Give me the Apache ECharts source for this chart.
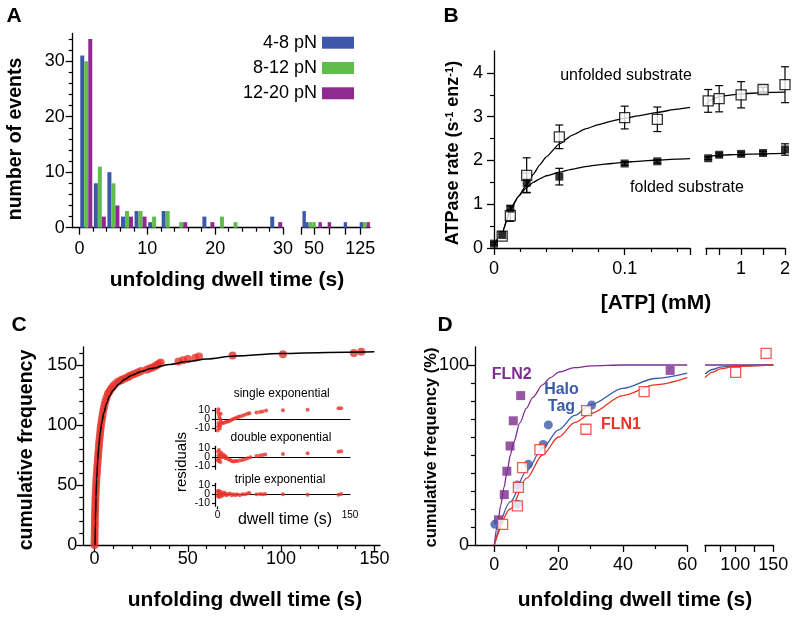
<!DOCTYPE html>
<html>
<head>
<meta charset="utf-8">
<script src="https://cdn.jsdelivr.net/npm/echarts@6.0.0/dist/echarts.min.js"></script>
<style>
  html, body { margin: 0; padding: 0; background: #fff; }
  #main { width: 795px; height: 617px; }
</style>
</head>
<body>
<div id="main"></div>
<script>
var FONT = '"Liberation Sans", Arial, Helvetica, sans-serif';

// ---- A: histogram of unfolding dwell times (2 s bins up to 30 s, then tail) ----
var binCenters = [1, 3, 5, 7, 9, 11, 13, 15, 17, 19, 21, 23, 25, 27, 29];
var countsLow = [31, 8, 10, 2, 3, 1, 3, 0, 0, 2, 0, 0, 0, 0, 2];    // 4-8 pN
var countsMid = [30, 11, 8, 3, 3, 2, 3, 1, 0, 0, 2, 1, 0, 0, 0];    // 8-12 pN
var countsHigh = [34, 2, 4, 2, 2, 0, 0, 1, 0, 1, 0, 0, 0, 0, 1];    // 12-20 pN
var tailLow = [[34, 3], [38.5, 1], [101, 1], [127, 1]];
var tailMid = [[44.5, 1], [50, 1], [132, 1]];
var tailHigh = [[60, 1], [75, 1], [138, 1]];

// ---- B: ATPase rate vs [ATP] ----
var atpLow = [0.00625, 0.0125, 0.025, 0.05, 0.1, 0.125];
var atpHigh = [0.25, 0.5, 1, 1.5, 2];
var unfoldedLow = [0.27, 0.74, 1.66, 2.54, 2.98, 2.94];
var unfoldedLowErr = [0.05, 0.13, 0.4, 0.27, 0.26, 0.28];
var unfoldedHigh = [3.36, 3.41, 3.5, 3.62, 3.73];
var unfoldedHighErr = [0.26, 0.3, 0.3, 0.05, 0.41];
var foldedAtpLow = [0, 0.00625, 0.0125, 0.025, 0.05, 0.1, 0.125];
var foldedLow = [0.1, 0.3, 0.9, 1.49, 1.63, 1.93, 1.98];
var foldedLowErr = [0.03, 0.05, 0.06, 0.22, 0.19, 0.04, 0.04];
var foldedHigh = [2.05, 2.13, 2.15, 2.17, 2.25];
var foldedHighErr = [0.03, 0.04, 0.04, 0.04, 0.13];
var fitAtpLow = [0, 0.00625, 0.0125, 0.01875, 0.025, 0.03, 0.035, 0.04, 0.05, 0.06, 0.07, 0.08, 0.09, 0.1, 0.11, 0.125, 0.14, 0.15];
var unfoldedFitLow = [0.05, 0.35, 0.88, 1.18, 1.45, 1.68, 1.9, 2.08, 2.38, 2.58, 2.72, 2.82, 2.9, 2.96, 3.02, 3.1, 3.17, 3.21];
var foldedFitLow = [0.05, 0.35, 0.88, 1.18, 1.38, 1.5, 1.58, 1.65, 1.73, 1.8, 1.86, 1.9, 1.93, 1.96, 1.98, 2.01, 2.03, 2.04];
var fitAtpHigh = [0.2, 0.3, 0.5, 1, 1.5, 2];
var unfoldedFitHigh = [3.28, 3.38, 3.46, 3.52, 3.55, 3.56];
var foldedFitHigh = [2.07, 2.1, 2.12, 2.14, 2.15, 2.16];

// ---- C: cumulative frequency + residual insets ----
var cumPts = [[0, 0], [0, 3], [0.05, 6], [0.1, 9], [0.1, 12], [0.15, 15], [0.2, 18], [0.2, 21], [0.25, 24],
  [0.3, 27], [0.35, 30], [0.4, 33], [0.45, 36], [0.5, 39], [0.6, 42], [0.7, 45], [0.8, 48], [0.9, 51],
  [1.0, 54], [1.1, 57], [1.3, 60], [1.4, 63], [1.5, 66], [1.7, 69], [1.8, 72], [2.0, 75], [2.1, 78],
  [2.3, 81], [2.4, 84], [2.6, 87], [2.8, 90], [3.0, 93], [3.2, 96], [3.4, 99], [3.7, 102], [4.0, 105],
  [4.3, 108], [4.6, 111], [5.0, 114], [5.4, 117], [5.9, 120], [6.5, 123], [7.2, 126], [8.0, 128],
  [8.8, 130], [9.8, 132], [11, 134], [12.5, 136], [14, 137], [15, 138], [16.5, 139], [18, 140],
  [19, 141], [20.5, 142], [22, 143], [23.5, 144], [25, 145], [28, 146], [29.5, 147], [31, 148],
  [32.5, 149], [33.5, 150], [34.5, 151], [35.5, 152], [45, 153], [47.5, 154], [50, 155], [54, 156],
  [56, 157], [74, 158], [101, 159], [139, 160], [143, 161]];
var cumFit = [[0.3, 0], [0.5, 20], [0.8, 40], [1.2, 55], [1.7, 70], [2.3, 82], [3, 93], [4, 103], [5, 110],
  [6.5, 118], [8, 124], [10, 129], [13, 134], [16, 138], [20, 141.5], [25, 144.5], [30, 147], [40, 150.5],
  [50, 153], [60, 155], [75, 157.5], [100, 159.5], [125, 160.5], [150, 161]];
var resSingle = [[0, -12], [0.5, -8], [0.5, 8], [1, 11], [1, -4], [1.5, 5], [2, -6], [2, 2], [2.5, -10],
  [3, 0], [3, -7], [3.5, 6], [4, -3], [5, -4], [7, -4], [9, -3], [11, -2.5], [13, -2], [15, -1], [17, 0],
  [19, 1], [21, 1.5], [23, 2.5], [25, 3], [28, 4], [31, 5], [34, 6], [36, 6.5], [44, 7.5], [48, 8],
  [51, 8.5], [55, 9.5], [74, 10], [102, 10.5], [137, 12], [140, 12]];
var resDouble = [[0, -3], [0.5, 6], [1, 2], [1, -4], [1.5, 8], [2, -2], [2.5, 3], [3, -5], [3.5, 1], [4, 5],
  [5, 0], [6, 3], [7, 1], [8, 2], [9, -1], [10, 0], [12, -2], [14, -3], [16, -4], [18, -4.5], [20, -4],
  [22, -4], [25, -3.5], [28, -3], [31, -2], [34, -1], [37, 0], [44, 1.5], [48, 2], [51, 2.5], [54, 3],
  [74, 3.5], [102, 4.5], [137, 6], [140, 6.5]];
var resTriple = [[0, 3], [0.5, -2], [1, 4], [1, 0], [1.5, -3], [2, 2], [2.5, -1], [3, 3], [3.5, 0], [4, -2],
  [5, 1], [6, -1], [7, 2], [8, 0], [9, 1], [10, -1], [12, 0], [14, 1], [16, -1], [18, 0], [20, -1],
  [22, 0], [25, -1], [28, 0], [31, 0], [34, 1], [36, 1.5], [44, 0], [48, 0.5], [51, 0], [54, 0.5],
  [74, 0], [102, -0.5], [137, -0.5], [140, 0.5]];

// ---- D: cumulative frequency (%) for FLN2, HaloTag, FLN1 ----
var fln2Pts = [[1.3, 14], [3.1, 28], [3.9, 41], [4.9, 55], [5.9, 69], [8.2, 83], [54.7, 97]];
var haloPts = [[0.2, 11.5], [7.2, 22.6], [7.2, 33.3], [10.6, 44.8], [15.2, 55.9], [16.8, 66.7], [30.3, 77.8]];
var fln1Pts = [[2.6, 11.5], [7.2, 21.7], [7.5, 32], [8.8, 43], [14.2, 53], [28.5, 64.3], [28.7, 74.6], [46.6, 85.2]];
var fln1TailPts = [[100.4, 95.9], [140.5, 106.5]];
var fln2Fit = [[0, 0], [1, 11], [2, 22], [3, 32], [4, 41], [5, 50], [6, 57], [8, 68], [10, 76], [12, 82],
  [15, 89], [17.5, 93], [20, 96], [25, 98.5], [30, 99.5], [40, 100], [60, 100]];
var fln2FitTail = [[60, 100], [150, 100]];
var haloFit = [[0, 0], [5, 24], [10, 41], [15, 54], [20, 64], [25, 72], [30, 78], [40, 87], [50, 92.5], [60, 95.5]];
var haloFitTail = [[60, 95], [70, 97.5], [80, 98.8], [100, 99.6], [150, 100]];
var fln1Fit = [[0, 0], [5, 20], [10, 37], [15, 50], [20, 60], [25, 68], [30, 73], [40, 83], [50, 89], [60, 93]];
var fln1FitTail = [[60, 93], [70, 96], [80, 97.8], [100, 99.3], [150, 100]];

var BLUE = '#3d58a8', GREEN = '#5fbd4a', PURPLE = '#8f2a91';
var RED = '#e8352b', DPURPLE = '#7d2d8f', DBLUE = '#3a5aa8', DRED = '#ec3326';

var grids = [
  { left: 72.7, top: 33.4, width: 210.3, height: 194.3 },  // 0 A
  { left: 301.7, top: 33.4, width: 68.3, height: 194.3 },  // 1 A tail
  { left: 494, top: 51, width: 196, height: 197 },         // 2 B
  { left: 706, top: 51, width: 79, height: 197 },          // 3 B high
  { left: 83.3, top: 347, width: 296.7, height: 198 },     // 4 C
  { left: 215, top: 408.3, width: 135, height: 23 },       // 5 C inset 1
  { left: 215, top: 446.3, width: 135, height: 23 },       // 6 C inset 2
  { left: 215, top: 483.3, width: 135, height: 23 },       // 7 C inset 3
  { left: 475, top: 347, width: 212.2, height: 198 },      // 8 D
  { left: 705, top: 347, width: 68.3, height: 198 }        // 9 D tail
];
grids.forEach(function (g) { g.outerBoundsMode = 'none'; g.containLabel = false; });

var xAxes = [], yAxes = [];

function addAxis(list, dim, grid, min, max, majors, minors, labels, labelOpt) {
  var base = {
    gridIndex: grid, type: 'value', min: min, max: max,
    position: dim === 'x' ? 'bottom' : 'left',
    splitLine: { show: false }
  };
  list.push(Object.assign({}, base, {
    axisLine: { show: true, onZero: false, lineStyle: { color: '#000', width: 1.3 } },
    axisTick: { show: majors.length > 0, customValues: majors, length: 7, lineStyle: { color: '#000', width: 1.3 } },
    axisLabel: Object.assign({
      show: labels.length > 0, customValues: labels, color: '#000',
      fontSize: 18, fontFamily: FONT, margin: 10, hideOverlap: false
    }, labelOpt || {})
  }));
  var idx = list.length - 1;
  // a second, line-less axis only for the short minor ticks
  if (minors && minors.length) {
    list.push(Object.assign({}, base, {
      axisLine: { show: false, onZero: false },
      axisTick: { customValues: minors, length: 4, lineStyle: { color: '#000', width: 1.2 } },
      axisLabel: { show: false }
    }));
  }
  return idx;
}

function hiddenAxis(list, grid, min, max) {
  list.push({ gridIndex: grid, type: 'value', min: min, max: max, show: false });
  return list.length - 1;
}

var ax = {};
ax.a1x = addAxis(xAxes, 'x', 0, -1, 30, [0, 10, 20, 30], [2, 4, 6, 8, 12, 14, 16, 18, 22, 24, 26, 28], [0, 10, 20, 30], { margin: 12 });
ax.a1y = addAxis(yAxes, 'y', 0, 0, 35, [0, 10, 20, 30], [2, 4, 6, 8, 12, 14, 16, 18, 22, 24, 26, 28, 32, 34], [0, 10, 20, 30], { margin: 8 });
ax.a2x = addAxis(xAxes, 'x', 1, 30, 141, [30, 50, 75, 100, 125], null, [50, 125], { margin: 12 });
ax.a2y = hiddenAxis(yAxes, 1, 0, 35);

ax.b1x = addAxis(xAxes, 'x', 2, 0, 0.15, [0, 0.1, 0.15], [0.02, 0.04, 0.06, 0.08, 0.12, 0.14], [0, 0.1], { margin: 12 });
ax.b1y = addAxis(yAxes, 'y', 2, 0, 4.5, [0, 1, 2, 3, 4], [0.5, 1.5, 2.5, 3.5], [0, 1, 2, 3, 4], { margin: 11 });
ax.b2x = addAxis(xAxes, 'x', 3, 0.2, 2, [0.2, 0.5, 1, 1.5, 2], null, [1, 2], { margin: 12 });
ax.b2y = hiddenAxis(yAxes, 3, 0, 4.5);

ax.cx = addAxis(xAxes, 'x', 4, -6, 153, [0, 50, 100, 150], [10, 20, 30, 40, 60, 70, 80, 90, 110, 120, 130, 140], [0, 50, 100, 150], { margin: 5 });
ax.cy = addAxis(yAxes, 'y', 4, 0, 165, [0, 50, 100, 150], [10, 20, 30, 40, 60, 70, 80, 90, 110, 120, 130, 140, 160], [0, 50, 100, 150], { margin: 6 });

var insetX = [], insetY = [];
var insetLabel = { fontSize: 10.5, color: '#000', fontFamily: FONT, margin: 5, hideOverlap: false };
[5, 6, 7].forEach(function (g) {
  xAxes.push({
    gridIndex: g, type: 'value', min: -3, max: 150, position: 'bottom',
    axisLine: { onZero: true, lineStyle: { color: '#000', width: 1.2 } },
    axisTick: { show: false }, axisLabel: { show: false }, splitLine: { show: false }
  });
  insetX.push(xAxes.length - 1);
  yAxes.push({
    gridIndex: g, type: 'value', min: -13, max: 12, position: 'left',
    axisLine: { show: true, onZero: false, lineStyle: { color: '#000', width: 1.2 } },
    axisTick: { customValues: [-10, 0, 10], length: 3, lineStyle: { color: '#000', width: 1.2 } },
    axisLabel: Object.assign({ customValues: [0] }, insetLabel),
    splitLine: { show: false }
  });
  insetY.push(yAxes.length - 1);
  // the +10 / -10 labels sit on their own axis so they are not dropped as overlapping
  yAxes.push({
    gridIndex: g, type: 'value', min: -13, max: 12, position: 'left',
    axisLine: { show: false, onZero: false }, axisTick: { show: false },
    axisLabel: Object.assign({ customValues: [-10, 10] }, insetLabel),
    splitLine: { show: false }
  });
});
xAxes.push({
  gridIndex: 7, type: 'value', min: -3, max: 150, position: 'bottom',
  axisLine: { show: false, onZero: false },
  axisTick: { customValues: [0], length: 3, lineStyle: { color: '#000', width: 1.2 } },
  axisLabel: { customValues: [0, 150], fontSize: 10, color: '#000', fontFamily: FONT, margin: 4 },
  splitLine: { show: false }
});

ax.dx = addAxis(xAxes, 'x', 8, -6, 60, [0, 20, 40, 60], [10, 30, 50], [0, 20, 40, 60], { margin: 11 });
ax.dy = addAxis(yAxes, 'y', 8, 0, 110, [0, 100], [10, 20, 30, 40, 50, 60, 70, 80, 90], [0, 100], { margin: 6 });
ax.d2x = addAxis(xAxes, 'x', 9, 60, 150, [60, 80, 100, 125, 150], null, [100, 150], { margin: 11 });
ax.d2y = hiddenAxis(yAxes, 9, 0, 110);

function pairs(xs, ys) {
  return xs.map(function (x, i) { return [x, ys[i]]; });
}
function errRows(xs, ys, es) {
  return xs.map(function (x, i) { return [x, ys[i] - es[i], ys[i] + es[i]]; });
}
function fitLine(data, xi, yi, color, width, smooth) {
  return {
    type: 'line', xAxisIndex: xi, yAxisIndex: yi, data: data, symbol: 'none',
    smooth: smooth === undefined ? 0.3 : smooth, smoothMonotone: 'x', clip: false, z: 4,
    lineStyle: { color: color, width: width || 1.3 }
  };
}
function errorBars(data, xi, yi) {
  return {
    type: 'custom', xAxisIndex: xi, yAxisIndex: yi, data: data, z: 2, clip: false,
    encode: { x: 0, y: [1, 2] },
    renderItem: function (params, api) {
      var top = api.coord([api.value(0), api.value(2)]);
      var bot = api.coord([api.value(0), api.value(1)]);
      var w = 4, st = { stroke: '#000', lineWidth: 1.2 };
      return {
        type: 'group', children: [
          { type: 'line', shape: { x1: top[0], y1: top[1], x2: bot[0], y2: bot[1] }, style: st },
          { type: 'line', shape: { x1: top[0] - w, y1: top[1], x2: top[0] + w, y2: top[1] }, style: st },
          { type: 'line', shape: { x1: bot[0] - w, y1: bot[1], x2: bot[0] + w, y2: bot[1] }, style: st }
        ]
      };
    }
  };
}
function dots(data, xi, yi, symbol, size, style, z) {
  return {
    type: 'scatter', xAxisIndex: xi, yAxisIndex: yi, data: data, symbol: symbol,
    symbolSize: size, itemStyle: style, clip: false, z: z || 5
  };
}

var series = [];

// A
[['4-8 pN', countsLow, tailLow, BLUE], ['8-12 pN', countsMid, tailMid, GREEN], ['12-20 pN', countsHigh, tailHigh, PURPLE]]
  .forEach(function (s) {
    series.push({
      name: s[0], type: 'bar', xAxisIndex: ax.a1x, yAxisIndex: ax.a1y, barWidth: 4, barGap: '0%',
      itemStyle: { color: s[3] },
      data: pairs(binCenters, s[1]).filter(function (d) { return d[1] > 0; })
    });
    series.push({
      name: s[0], type: 'bar', xAxisIndex: ax.a2x, yAxisIndex: ax.a2y, barWidth: 3.4, barGap: '-100%',
      itemStyle: { color: s[3] }, data: s[2]
    });
  });

// B
series.push(errorBars(errRows(atpLow, unfoldedLow, unfoldedLowErr), ax.b1x, ax.b1y));
series.push(errorBars(errRows(foldedAtpLow, foldedLow, foldedLowErr), ax.b1x, ax.b1y));
series.push(errorBars(errRows(atpHigh, unfoldedHigh, unfoldedHighErr), ax.b2x, ax.b2y));
series.push(errorBars(errRows(atpHigh, foldedHigh, foldedHighErr), ax.b2x, ax.b2y));
series.push(fitLine(pairs(fitAtpLow, unfoldedFitLow), ax.b1x, ax.b1y, '#000', 1.3, 0.15));
series.push(fitLine(pairs(fitAtpLow, foldedFitLow), ax.b1x, ax.b1y, '#000', 1.3, 0.15));
series.push(fitLine(pairs(fitAtpHigh, unfoldedFitHigh), ax.b2x, ax.b2y, '#000', 1.3, 0.15));
series.push(fitLine(pairs(fitAtpHigh, foldedFitHigh), ax.b2x, ax.b2y, '#000', 1.3, 0.15));
var openSq = { color: '#fff', borderColor: '#000', borderWidth: 1.3 };
series.push(dots(pairs(atpLow, unfoldedLow), ax.b1x, ax.b1y, 'rect', 10, openSq, 6));
series.push(dots(pairs(atpHigh, unfoldedHigh), ax.b2x, ax.b2y, 'rect', 10, openSq, 6));
series.push(dots(pairs(foldedAtpLow, foldedLow), ax.b1x, ax.b1y, 'rect', 8, { color: '#000' }, 6));
series.push(dots(pairs(atpHigh, foldedHigh), ax.b2x, ax.b2y, 'rect', 8, { color: '#000' }, 6));

// C
series.push(dots(cumPts, ax.cx, ax.cy, 'circle', 8, { color: RED }, 3));
series.push(fitLine(cumFit, ax.cx, ax.cy, '#000', 1.5));
[resSingle, resDouble, resTriple].forEach(function (d, i) {
  series.push(dots(d, insetX[i], insetY[i], 'circle', 4, { color: RED }, 5));
});

// D
series.push(fitLine(fln2Fit, ax.dx, ax.dy, DPURPLE, 1.3));
series.push(fitLine(fln2FitTail, ax.d2x, ax.d2y, DPURPLE, 1.3));
series.push(fitLine(haloFit, ax.dx, ax.dy, DBLUE, 1.3));
series.push(fitLine(haloFitTail, ax.d2x, ax.d2y, DBLUE, 1.3));
series.push(fitLine(fln1Fit, ax.dx, ax.dy, DRED, 1.3));
series.push(fitLine(fln1FitTail, ax.d2x, ax.d2y, DRED, 1.3));
series.push(dots(fln2Pts, ax.dx, ax.dy, 'rect', 9, { color: DPURPLE }, 6));
series.push(dots(haloPts, ax.dx, ax.dy, 'circle', 9, { color: DBLUE }, 6));
var redSq = { color: '#fff', borderColor: DRED, borderWidth: 1.3 };
series.push(dots(fln1Pts, ax.dx, ax.dy, 'rect', 10, redSq, 7));
series.push(dots(fln1TailPts, ax.d2x, ax.d2y, 'rect', 10, redSq, 7));

function txt(text, x, y, size, opt) {
  opt = opt || {};
  return {
    type: 'text', x: x, y: y, rotation: opt.rot ? Math.PI / 2 : 0, silent: true, z: 10,
    style: {
      text: text, fontSize: size, fontWeight: opt.bold ? 'bold' : 'normal', fontFamily: FONT,
      fill: opt.color || '#000', align: 'center', verticalAlign: 'middle', rich: opt.rich
    }
  };
}

var supRich = { sup: { fontSize: 11, fontWeight: 'bold', fontFamily: FONT, fill: '#000', verticalAlign: 'top' } };

var texts = [
  txt('A', 14, 16.5, 21, { bold: true }),
  txt('B', 451, 16, 21, { bold: true }),
  txt('C', 19, 325, 21, { bold: true }),
  txt('D', 445, 325, 21, { bold: true }),
  txt('number of events', 15.5, 139, 19.5, { bold: true, rot: true }),
  txt('unfolding dwell time (s)', 227, 280, 21, { bold: true }),
  txt('ATPase rate (s{sup|-1} enz{sup|-1})', 453.5, 153, 18, { bold: true, rot: true, rich: supRich }),
  txt('[ATP] (mM)', 656, 303, 21, { bold: true }),
  txt('unfolded substrate', 626, 76, 16),
  txt('folded substrate', 687, 188, 16),
  txt('cumulative frequency', 26.7, 450, 19.5, { bold: true, rot: true }),
  txt('unfolding dwell time (s)', 245, 600, 21, { bold: true }),
  txt('single exponential', 281.7, 393.3, 12),
  txt('double exponential', 281, 437.3, 12),
  txt('triple exponential', 280, 480, 12),
  txt('residuals', 182, 462, 15, { rot: true }),
  txt('dwell time (s)', 285, 519.5, 16),
  txt('cumulative frequency (%)', 431.7, 447.5, 16.5, { bold: true, rot: true }),
  txt('unfolding dwell time (s)', 635, 600, 21, { bold: true }),
  txt('FLN2', 511.7, 375, 16, { bold: true, color: DPURPLE }),
  txt('Halo', 561.5, 389.3, 16, { bold: true, color: DBLUE }),
  txt('Tag', 561.5, 406.7, 16, { bold: true, color: DBLUE }),
  txt('FLN1', 621, 425, 16, { bold: true, color: DRED })
];

var chart = echarts.init(document.getElementById('main'));
chart.setOption({
  backgroundColor: '#fff',
  animation: false,
  textStyle: { fontFamily: FONT },
  legend: {
    data: ['4-8 pN', '8-12 pN', '12-20 pN'],
    orient: 'vertical', right: 441, top: 33.7, padding: 0, align: 'right',
    itemWidth: 32, itemHeight: 12, itemGap: 7.3, icon: 'rect', selectedMode: false,
    textStyle: { fontSize: 18, color: '#000', fontFamily: FONT }
  },
  grid: grids,
  xAxis: xAxes,
  yAxis: yAxes,
  series: series,
  graphic: texts
});
</script>
</body>
</html>
